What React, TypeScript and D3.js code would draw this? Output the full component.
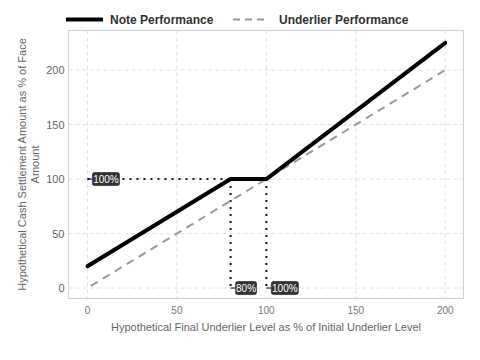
import React from "react";
import * as d3 from "d3";

const noteX = [0, 80, 100, 200];
const noteY = [20, 100, 100, 225];
const underX = [0, 200];
const underY = [0, 200];
const xTicks = [0, 50, 100, 150, 200];
const yTicks = [0, 50, 100, 150, 200];
const annotations = [
  { x: 0, y: 100, text: "100%" },
  { x: 80, y: 0, text: "80%" },
  { x: 100, y: 0, text: "100%" },
];

export default function App() {
  const W = 480, H = 360;
  const L = 68.5, R = 463.5, T = 30.5, B = 298.5;
  const x = d3.scaleLinear().domain([-10.6, 210.2]).range([L, R]);
  const y = d3.scaleLinear().domain([-9.6, 236.3]).range([B, T]);
  const line = d3.line<[number, number]>().x(d => x(d[0])).y(d => y(d[1]));
  const notePts = noteX.map((v, i) => [v, noteY[i]] as [number, number]);
  const underPts = underX.map((v, i) => [v, underY[i]] as [number, number]);
  const font = "Liberation Sans, Arial, sans-serif";
  return (
    <svg width={W} height={H} style={{ position: "absolute", left: 0, top: 0, fontFamily: font }}>
      <rect width={W} height={H} fill="#fff" />
      {xTicks.map(t => (
        <line key={"gx" + t} x1={x(t)} x2={x(t)} y1={T} y2={B} stroke="#e0e0e6" strokeDasharray="4,3" />
      ))}
      {yTicks.map(t => (
        <line key={"gy" + t} x1={L} x2={R} y1={y(t)} y2={y(t)} stroke="#e0e0e6" strokeDasharray="4,3" />
      ))}
      <rect x={L} y={T} width={R - L} height={B - T} fill="none" stroke="#ccd2d8" />
      {xTicks.map(t => (
        <text key={"tx" + t} x={x(t)} y={B + 15} textAnchor="middle" fontSize={10} fill="#777">{t}</text>
      ))}
      {yTicks.map(t => (
        <text key={"ty" + t} x={L - 4} y={y(t) + 4} textAnchor="end" fontSize={11} fill="#666">{t}</text>
      ))}
      <text x={(L + R) / 2} y={331} textAnchor="middle" fontSize={11} fill="#666">
        Hypothetical Final Underlier Level as % of Initial Underlier Level
      </text>
      <g transform={`translate(26,${(T + B) / 2}) rotate(-90)`}>
        <text x={0} y={0} textAnchor="middle" fontSize={11} fill="#666">
          Hypothetical Cash Settlement Amount as % of Face
        </text>
        <text x={0} y={13} textAnchor="middle" fontSize={11} fill="#666">Amount</text>
      </g>
      <line x1={x(0)} x2={x(80)} y1={y(100)} y2={y(100)} stroke="#0d1a33" strokeWidth={2} strokeDasharray="2,5" />
      <line x1={x(80)} x2={x(80)} y1={y(100)} y2={y(0)} stroke="#0d1a33" strokeWidth={2} strokeDasharray="2,5" />
      <line x1={x(100)} x2={x(100)} y1={y(100)} y2={y(0)} stroke="#0d1a33" strokeWidth={2} strokeDasharray="2,5" />
      <path d={line(underPts) || ""} fill="none" stroke="#999" strokeWidth={2} strokeDasharray="8,6" strokeDashoffset={-4} />
      <path d={line(notePts) || ""} fill="none" stroke="#000" strokeWidth={4} strokeLinecap="round" strokeLinejoin="round" />
      {annotations.map((a, i) => {
        const w = a.text.length * 6 + 3;
        const bx = x(a.x) + 5;
        const by = y(a.y) - 6.5;
        return (
          <g key={"a" + i}>
            <line x1={x(a.x)} x2={bx} y1={y(a.y)} y2={y(a.y)} stroke="#000" strokeWidth={1} />
            <rect x={bx} y={by} width={w} height={13} rx={2} fill="#333" stroke="#000" strokeWidth={0.5} />
            <text x={bx + w / 2} y={by + 10} textAnchor="middle" fontSize={10} fill="#fff">{a.text}</text>
          </g>
        );
      })}
      <line x1={66} x2={103} y1={19.5} y2={19.5} stroke="#000" strokeWidth={4} />
      <text x={110} y={24} fontSize={12} fontWeight="bold" fill="#333">Note Performance</text>
      <line x1={233} x2={268} y1={19.5} y2={19.5} stroke="#999" strokeWidth={2} strokeDasharray="7,5" />
      <text x={279} y={24} fontSize={12} fontWeight="bold" fill="#333">Underlier Performance</text>
    </svg>
  );
}
